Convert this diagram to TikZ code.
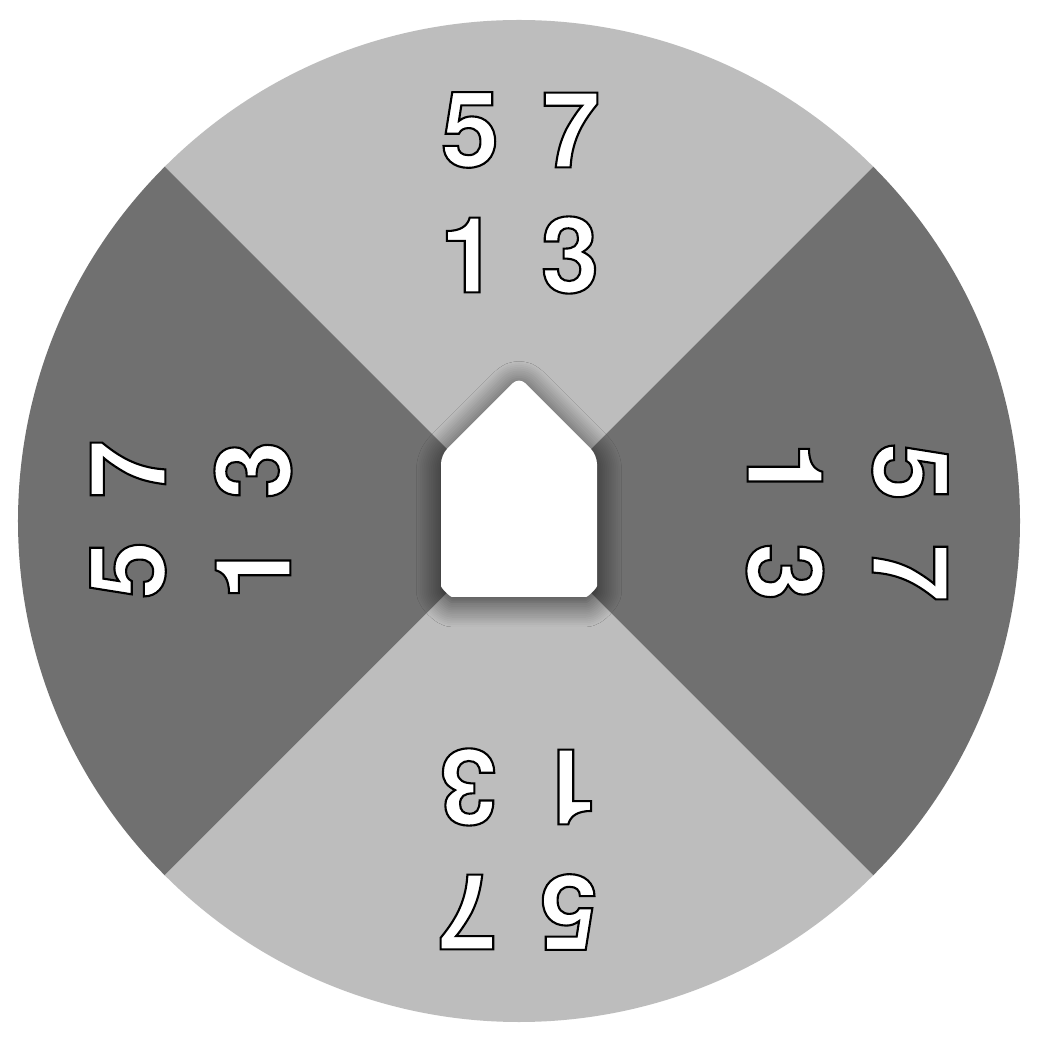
\documentclass[tikz,border=0pt]{standalone}
\usepackage{fontspec}
\usepackage{tikz}
\usetikzlibrary{shadows.blur}
\newfontfamily\digitfont{TeX Gyre Heros}
\newcommand\outlined[1]{\special{pdf:literal direct 0 G 1.2 w 2 Tr}#1\special{pdf:literal direct 0 Tr}}
\definecolor{sectorlight}{HTML}{BDBDBD}
\definecolor{sectordark}{HTML}{707070}

\begin{document}
\begin{tikzpicture}[
    x=0.02cm, y=0.02cm,
    lightsector/.style={fill=sectorlight},
    darksector/.style={fill=sectordark},
    digit/.style={text=white, font=\digitfont\bfseries\fontsize{60}{60}\selectfont, inner sep=0pt, anchor=center},
    house/.style={fill=white, rounded corners=5, blur shadow={shadow xshift=0pt, shadow yshift=-3pt, shadow blur radius=14pt, shadow opacity=75, shadow blur steps=14}}
]

\useasboundingbox[fill=white] (-519,-523) rectangle (521,521);

% Sectors
\foreach \ang/\sty in {45/lightsector, 135/darksector, 225/lightsector, 315/darksector}
    \fill[\sty] (0,0) -- (\ang:501) arc[start angle=\ang, end angle=\ang+90, radius=501] -- cycle;

% Digits
\foreach \ang in {0,-90,180,90} {
  \begin{scope}[rotate=\ang, transform shape]
    \node[digit] (five\ang) at (-49,391) {\outlined{5}};
    \node[digit] (seven\ang) at (52,391) {\outlined{7}};
    \node[digit] (one\ang) at (-50,266) {\outlined{1}};
    \node[digit] (three\ang) at (51,266) {\outlined{3}};
  \end{scope}
}

% Center
\path[house] (0,144) -- (-78,66) -- (-78,-56) arc[start angle=180, end angle=270, radius=20]
    -- (58,-76) arc[start angle=270, end angle=360, radius=20] -- (78,66) -- cycle;

\end{tikzpicture}
\end{document}
